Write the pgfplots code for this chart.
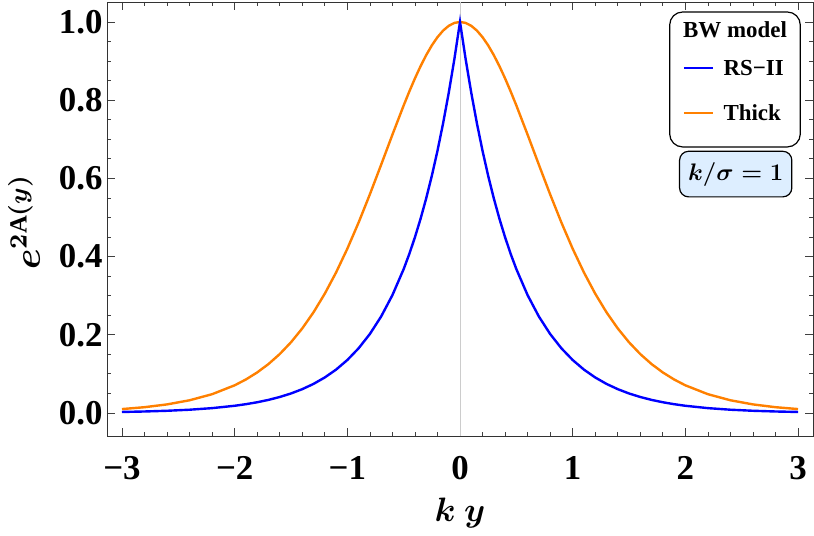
\documentclass[border=0pt]{standalone}
\usepackage{pgfplots}
\pgfplotsset{compat=1.18}
\usepackage{pgfplotstable}
\usepackage{graphicx}
\usepackage{amsmath}
\usepackage{fontspec}
\setmainfont{Liberation Serif}
\definecolor{mblue}{RGB}{0,0,255}
\definecolor{morange}{RGB}{255,128,0}
\definecolor{boxblue}{RGB}{221,238,255}
\pgfplotstableread{
x thick rs
-3.0 0.00987 0.00248
-2.8 0.01468 0.00370
-2.6 0.02182 0.00552
-2.4 0.03238 0.00823
-2.2 0.04793 0.01228
-2.0 0.07065 0.01832
-1.9 0.08561 0.02237
-1.8 0.10356 0.02732
-1.7 0.12501 0.03337
-1.6 0.15053 0.04076
-1.5 0.18071 0.04979
-1.4 0.21615 0.06081
-1.3 0.25743 0.07427
-1.2 0.30502 0.09072
-1.1 0.35920 0.11080
-1.0 0.41997 0.13534
-0.9 0.48692 0.16530
-0.8 0.55905 0.20190
-0.7 0.63474 0.24660
-0.6 0.71158 0.30119
-0.5 0.78645 0.36788
-0.45 0.82200 0.40657
-0.4 0.85564 0.44933
-0.35 0.88685 0.49659
-0.3 0.91514 0.54881
-0.25 0.94001 0.60653
-0.2 0.96104 0.67032
-0.15 0.97783 0.74082
-0.1 0.99007 0.81873
-0.05 0.99750 0.90484
0.0 1.00000 1.00000
0.05 0.99750 0.90484
0.1 0.99007 0.81873
0.15 0.97783 0.74082
0.2 0.96104 0.67032
0.25 0.94001 0.60653
0.3 0.91514 0.54881
0.35 0.88685 0.49659
0.4 0.85564 0.44933
0.45 0.82200 0.40657
0.5 0.78645 0.36788
0.6 0.71158 0.30119
0.7 0.63474 0.24660
0.8 0.55905 0.20190
0.9 0.48692 0.16530
1.0 0.41997 0.13534
1.1 0.35920 0.11080
1.2 0.30502 0.09072
1.3 0.25743 0.07427
1.4 0.21615 0.06081
1.5 0.18071 0.04979
1.6 0.15053 0.04076
1.7 0.12501 0.03337
1.8 0.10356 0.02732
1.9 0.08561 0.02237
2.0 0.07065 0.01832
2.2 0.04793 0.01228
2.4 0.03238 0.00823
2.6 0.02182 0.00552
2.8 0.01468 0.00370
3.0 0.00987 0.00248
}\data
\begin{document}
\begin{tikzpicture}
\begin{axis}[
  scale only axis,
  width=706bp, height=434bp,
  xmin=-3.133, xmax=3.133,
  ymin=-0.059, ymax=1.051,
  axis line style={line width=0.8bp, black!80},
  xtick={-3,-2,-1,0,1,2,3},
  xticklabels={−3,−2,−1,0,1,2,3},
  ytick={0,0.2,0.4,0.6,0.8,1.0},
  yticklabels={0.0,0.2,0.4,0.6,0.8,1.0},
  minor x tick num=4,
  minor y tick num=3,
  major tick length=8bp,
  minor tick length=4.5bp,
  tick style={line width=0.7bp, black!75},
  tick align=inside,
  tick label style={font=\bfseries\fontsize{35}{35}\selectfont},
  xticklabel style={anchor=base, yshift=-43bp},
  yticklabel style={xshift=-1bp},
  xlabel={\scalebox{2.83}{$k\ y$}},
  ylabel={\scalebox{3.1}{$e^{2\mathrm{A}(y)}$}},
  xlabel style={font=\fontsize{12}{12}\selectfont\boldmath, at={(rel axis cs:0.5,-0.198)}, anchor=base},
  ylabel style={font=\fontsize{12}{12}\selectfont\boldmath, at={(rel axis cs:-0.1176,0.493)}, anchor=center},
  clip=false,
]
\draw[black!20, line width=0.8bp] (axis cs:0,-0.059) -- (axis cs:0,1.051);
\addplot[morange, line width=2.4bp] table[x=x, y=thick] {\data};
\addplot[mblue, line width=2.4bp] table[x=x, y=rs] {\data};
% legend
\draw[line width=1.2bp, rounded corners=13bp, fill=white] (rel axis cs:0.797,0.666) rectangle (rel axis cs:0.982,0.977);
\node[font=\bfseries\fontsize{23}{23}\selectfont] at (rel axis cs:0.8895,0.935) {BW model};
\draw[mblue, line width=2.4bp] (rel axis cs:0.817,0.848) -- (rel axis cs:0.858,0.848);
\node[font=\bfseries\fontsize{23}{23}\selectfont, anchor=west, inner sep=0pt] at (rel axis cs:0.873,0.848) {RS−II};
\draw[morange, line width=2.4bp] (rel axis cs:0.817,0.744) -- (rel axis cs:0.858,0.744);
\node[font=\bfseries\fontsize{23}{23}\selectfont, anchor=west, inner sep=0pt] at (rel axis cs:0.873,0.744) {Thick};
\draw[line width=1.2bp, rounded corners=9bp, fill=boxblue] (rel axis cs:0.811,0.551) rectangle (rel axis cs:0.970,0.656);
\node[font=\fontsize{12}{12}\selectfont\boldmath] at (rel axis cs:0.8905,0.6035) {\scalebox{2}{$k/\sigma=1$}};
\end{axis}
\pgfresetboundingbox
\useasboundingbox (-107bp,-100bp) rectangle (707bp,436bp);
\end{tikzpicture}
\end{document}
